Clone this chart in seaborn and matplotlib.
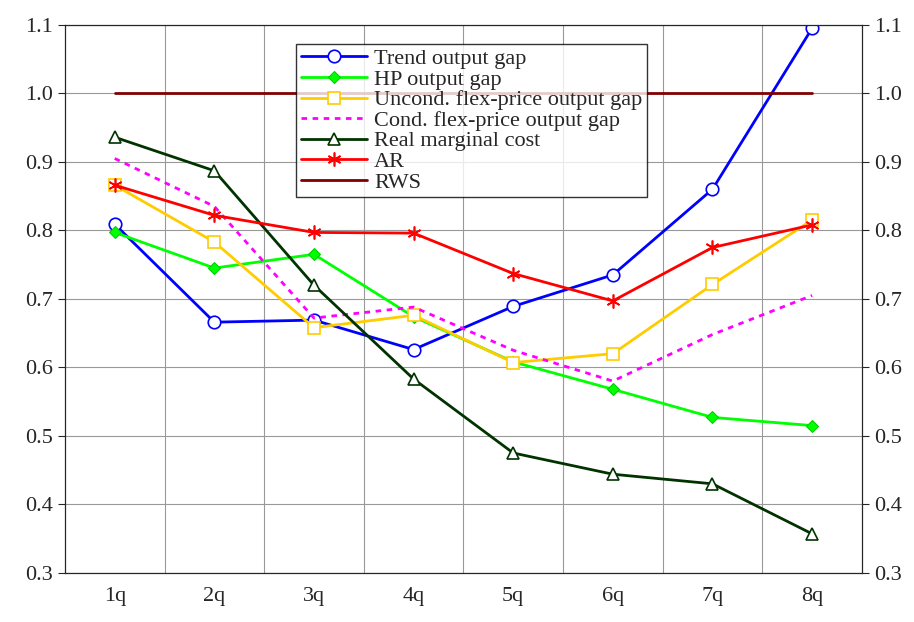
import numpy as np
import pandas as pd
import seaborn as sns
from matplotlib import pyplot as plt

quarters = ["1q", "2q", "3q", "4q", "5q", "6q", "7q", "8q"]
trend = [0.809, 0.666, 0.669, 0.626, 0.689, 0.735, 0.860, 1.095]
hp = [0.797, 0.745, 0.765, 0.674, 0.608, 0.568, 0.527, 0.515]
uncond = [0.866, 0.783, 0.658, 0.676, 0.607, 0.620, 0.721, 0.815]
cond = [0.905, 0.835, 0.672, 0.688, 0.625, 0.580, 0.648, 0.705]
rmc = [0.936, 0.887, 0.720, 0.583, 0.475, 0.444, 0.430, 0.357]
ar = [0.866, 0.822, 0.797, 0.796, 0.737, 0.697, 0.775, 0.808]
rws = [1.0] * 8

sns.set_style("white")
plt.rcParams['font.family'] = ['Liberation Serif', 'DejaVu Serif']

fig = plt.figure(figsize=(9.14, 6.22), dpi=100)
ax = fig.add_axes([0.071, 0.079, 0.872, 0.881])
x = np.arange(len(quarters))

series = [
    ("Trend output gap", trend, dict(color="#0000ff", marker="o", mfc="white", mec="#0000ff", ms=9, mew=1.2)),
    ("HP output gap", hp, dict(color="#00ff00", marker="D", mfc="#00ff00", mec="#00cc00", ms=6)),
    ("Uncond. flex-price output gap", uncond, dict(color="#ffcc00", marker="s", mfc="white", mec="#ffcc00", ms=9, mew=1.2)),
    ("Cond. flex-price output gap", cond, dict(color="#ff00ff", linestyle=(0, (2, 2)))),
    ("Real marginal cost", rmc, dict(color="#003300", marker="^", mfc="white", mec="#003300", ms=9, mew=1.2)),
    ("AR", ar, dict(color="#ff0000", marker=(6, 2, 0), mec="#ff0000", ms=10, mew=1.2)),
    ("RWS", rws, dict(color="#800000")),
]
for name, vals, kw in series:
    df = pd.DataFrame({"x": x, "y": vals})
    sns.lineplot(data=df, x="x", y="y", ax=ax, label=name, lw=2, **kw)

ax.set_xlim(-0.5, 7.5)
ax.set_ylim(0.3, 1.1)
ax.set_yticks(np.arange(0.3, 1.11, 0.1))
ax.set_yticklabels([f"{v:.1f}" for v in np.arange(0.3, 1.11, 0.1)], fontsize=16)
ax.set_xticks(x)
ax.set_xticklabels(quarters, fontsize=16)
ax.set_xticks(np.arange(0.5, 7, 1), minor=True)
ax.grid(False)
ax.grid(True, which="minor", axis="x", color="#999999", lw=0.8)
ax.grid(True, which="major", axis="y", color="#999999", lw=0.8)
ax.tick_params(axis="x", which="both", length=0, pad=10)
ax.tick_params(axis="y", direction="out", length=5)
ax.set_xlabel("")
ax.set_ylabel("")
for s in ax.spines.values():
    s.set_color("black")

ax2 = ax.twinx()
ax2.set_ylim(0.3, 1.1)
ax2.set_yticks(np.arange(0.3, 1.11, 0.1))
ax2.set_yticklabels([f"{v:.1f}" for v in np.arange(0.3, 1.11, 0.1)], fontsize=16)
ax2.tick_params(axis="y", direction="out", length=5)

leg = ax.legend(loc="upper center", bbox_to_anchor=(0.51, 0.985), fontsize=16,
                frameon=True, fancybox=False, edgecolor="black", handlelength=3,
                borderpad=0.2, labelspacing=0.0, handletextpad=0.3)
leg.get_frame().set_linewidth(1)
fig.savefig("out.png", dpi=100)
